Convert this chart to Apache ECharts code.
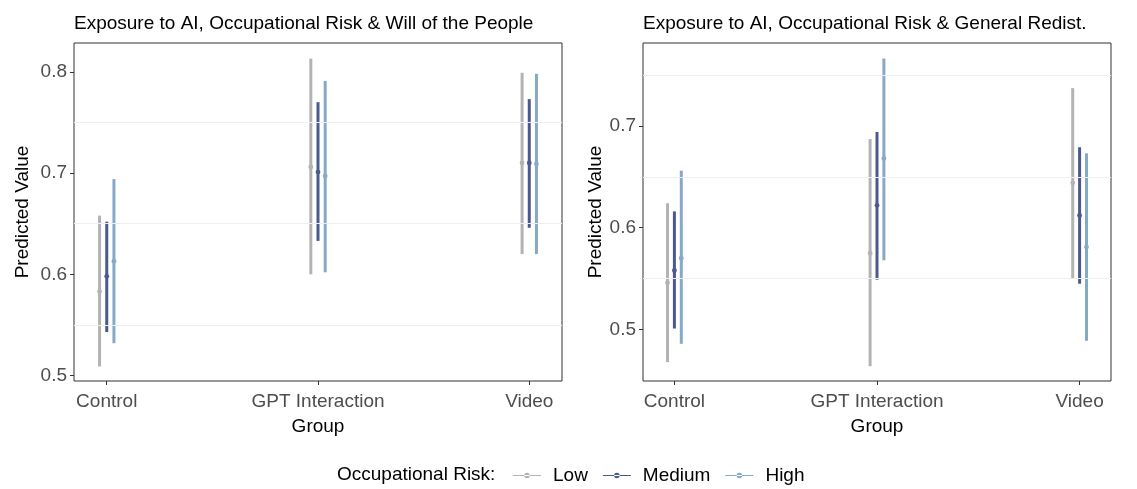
<!DOCTYPE html>
<html>
<head>
<meta charset="utf-8">
<script src="https://cdn.jsdelivr.net/npm/echarts@6/dist/echarts.min.js"></script>
<style>
  html, body { margin: 0; padding: 0; background: #fff; }
  #chart { width: 1137px; height: 489px; }
</style>
</head>
<body>
<div id="chart"></div>
<script>
const groups = ['Control', 'GPT Interaction', 'Video']
const levels = ['Low', 'Medium', 'High']
const dodge = [-0.034, 0, 0.034]

// [estimate, lower, upper] per group
const willLow = [[0.583, 0.509, 0.658], [0.706, 0.600, 0.813], [0.710, 0.620, 0.799]]
const willMedium = [[0.598, 0.543, 0.652], [0.701, 0.633, 0.770], [0.710, 0.646, 0.773]]
const willHigh = [[0.613, 0.532, 0.694], [0.697, 0.602, 0.791], [0.709, 0.620, 0.798]]

const redistLow = [[0.546, 0.468, 0.624], [0.575, 0.464, 0.687], [0.644, 0.550, 0.737]]
const redistMedium = [[0.558, 0.501, 0.616], [0.622, 0.549, 0.694], [0.612, 0.545, 0.679]]
const redistHigh = [[0.570, 0.486, 0.656], [0.668, 0.568, 0.766], [0.581, 0.489, 0.673]]

const leftTicks = [0.5, 0.6, 0.7, 0.8]
const rightTicks = [0.5, 0.6, 0.7]
const minorGrid = [0.55, 0.65, 0.75]

const colors = ['#b3b3b3', '#4a5a8e', '#86a9c7']
const widths = [3, 3, 3]
const font = 'Liberation Sans, Arial, Helvetica, sans-serif'
const fs = 19

function makeRender(color, lw) {
  return function (params, api) {
    const x = api.value(0)
    const p = api.coord([x, api.value(1)])
    const lo = api.coord([x, api.value(2)])
    const hi = api.coord([x, api.value(3)])
    return {
      type: 'group',
      children: [
        { type: 'line', shape: { x1: lo[0], y1: lo[1], x2: hi[0], y2: hi[1] }, style: { stroke: color, lineWidth: lw } },
        { type: 'circle', shape: { cx: p[0], cy: p[1], r: 2.4 }, style: { fill: color } }
      ]
    }
  }
}

function panelSeries(sets, idx) {
  return sets.map((rows, li) => ({
    type: 'custom',
    name: levels[li],
    xAxisIndex: idx,
    yAxisIndex: idx,
    itemStyle: { color: colors[li] },
    renderItem: makeRender(colors[li], widths[li]),
    encode: { x: 0, y: [1, 2, 3] },
    data: rows.map((r, gi) => [gi + 1 + dodge[li], r[0], r[1], r[2]]),
    markLine: li === 0 ? {
      silent: true,
      symbol: 'none',
      label: { show: false },
      lineStyle: { color: '#efefef', width: 1, type: 'solid' },
      data: minorGrid.map(v => ({ yAxis: v }))
    } : undefined,
    z: 3
  }))
}

function xAxis(idx) {
  return {
    type: 'value',
    gridIndex: idx,
    min: 0.845,
    max: 3.155,
    name: 'Group',
    nameLocation: 'middle',
    nameGap: 36,
    nameTextStyle: { color: '#000', fontSize: fs, fontFamily: font },
    axisLine: { show: false },
    splitLine: { show: false },
    axisTick: { show: true, length: 4, customValues: [1, 2, 3], lineStyle: { color: '#333' } },
    axisLabel: {
      customValues: [1, 2, 3],
      formatter: v => groups[Math.round(v) - 1],
      color: '#4d4d4d', fontSize: fs, fontFamily: font, margin: 11
    }
  }
}

function yAxis(idx, min, max, ticks, gap) {
  return {
    type: 'value',
    gridIndex: idx,
    min: min,
    max: max,
    name: 'Predicted Value',
    nameLocation: 'middle',
    nameGap: gap,
    nameTextStyle: { color: '#000', fontSize: fs, fontFamily: font },
    axisLine: { show: false },
    splitLine: { show: false },
    axisTick: { show: true, length: 4, customValues: ticks, lineStyle: { color: '#333' } },
    axisLabel: {
      customValues: ticks,
      formatter: v => v.toFixed(1),
      color: '#4d4d4d', fontSize: fs, fontFamily: font, margin: 7
    }
  }
}

const legendIcon = 'path://M0,4.4h30v1.2h-30z M15,5m-3,0a3,3 0 1,0 6,0a3,3 0 1,0 -6,0z'

const chart = echarts.init(document.getElementById('chart'))
chart.setOption({
  animation: false,
  backgroundColor: '#fff',
  title: [
    { text: 'Exposure to AI, Occupational Risk & Will of the People', left: 74, top: 14, padding: 0,
      textStyle: { fontSize: fs, fontWeight: 'normal', color: '#000', fontFamily: font } },
    { text: 'Exposure to AI, Occupational Risk & General Redist.', left: 643, top: 14, padding: 0,
      textStyle: { fontSize: fs, fontWeight: 'normal', color: '#000', fontFamily: font } }
  ],
  grid: [
    { left: 74, right: 575, top: 43, bottom: 108, show: true, borderColor: '#333', borderWidth: 1, backgroundColor: '#fff' },
    { left: 643, right: 26, top: 43, bottom: 108, show: true, borderColor: '#333', borderWidth: 1, backgroundColor: '#fff' }
  ],
  xAxis: [xAxis(0), xAxis(1)],
  yAxis: [
    yAxis(0, 0.4947, 0.8284, leftTicks, 42),
    yAxis(1, 0.4495, 0.7813, rightTicks, 31)
  ],
  legend: {
    data: levels.map(n => ({ name: n, icon: legendIcon })),
    left: 513,
    top: 466,
    padding: 0,
    itemWidth: 28,
    itemHeight: 10,
    itemGap: 15,
    textStyle: { color: '#000', fontSize: fs, fontFamily: font, padding: [0, 0, 0, 7] }
  },
  graphic: [{
    type: 'text',
    left: 337,
    top: 465,
    style: { text: 'Occupational Risk:', fill: '#000', fontSize: fs, fontFamily: font }
  }],
  series: [
    ...panelSeries([willLow, willMedium, willHigh], 0),
    ...panelSeries([redistLow, redistMedium, redistHigh], 1)
  ]
})
</script>
</body>
</html>
